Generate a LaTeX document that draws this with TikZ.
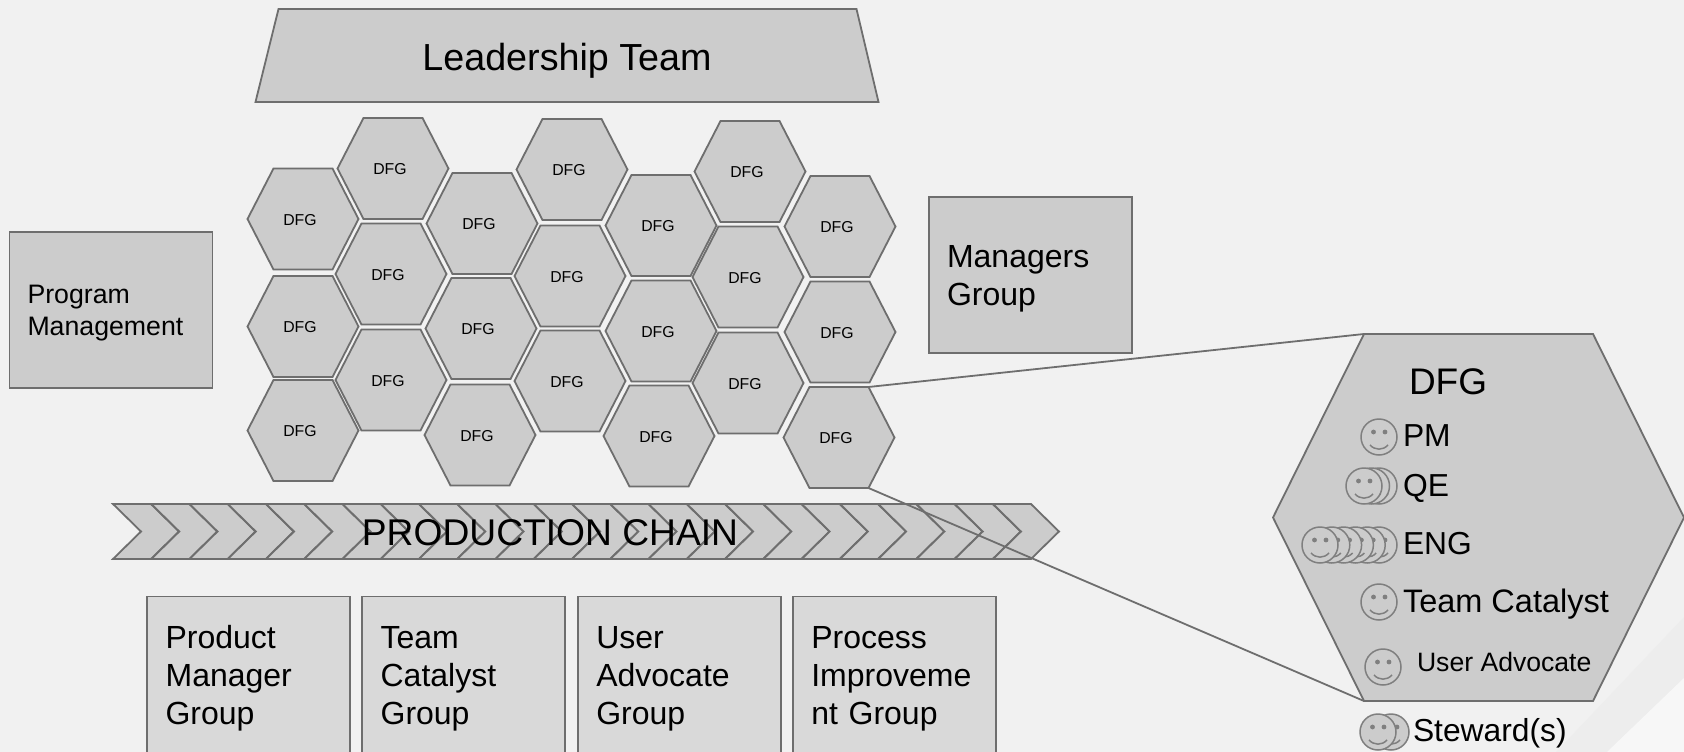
\documentclass[tikz,border=0pt]{standalone}
\usepackage{fontspec}
\setmainfont{Liberation Sans}
\usetikzlibrary{calc}
\definecolor{bgc}{HTML}{F1F1F1}
\definecolor{bandc}{HTML}{EDEDED}
\definecolor{lightc}{HTML}{F7F7F7}
\definecolor{fillc}{HTML}{CCCCCC}
\definecolor{fillb}{HTML}{D9D9D9}
\definecolor{linec}{HTML}{6E6E6E}
\definecolor{facec}{HTML}{7F7F7F}
\newcommand{\fs}[1]{\fontsize{#1}{#1}\selectfont}
\newcommand{\fsl}[2]{\fontsize{#1}{#2}\selectfont}
\tikzset{
  shapeline/.style={draw=linec,line width=1.8pt,fill=fillc,line join=miter},
  hexlabel/.style={inner sep=0pt,outer sep=0pt,font=\fs{15.8},text=black},
  boxa/.style={shapeline,rectangle,minimum width=203pt,inner sep=0pt,outer sep=0pt},
  boxb/.style={boxa,fill=fillb,minimum height=156pt},
  boxcopy/.style={inner sep=0pt,outer sep=0pt,align=left,text=black,text width=167pt},
  boxtxt/.style={anchor=base west,inner sep=0pt,outer sep=0pt,text=black},
  zoomline/.style={draw=linec,line width=1.8pt},
  smiley/.pic={
    \draw[draw=facec,line width=1.5pt,fill=fillc] (0,0) circle[radius=18];
    \fill[facec] (-5.5,-5) circle[radius=2.4] (6,-5) circle[radius=2.4];
    \draw[draw=facec,line width=1.5pt] (-9,8) .. controls (-4,13.5) and (4,13.5) .. (9,8);
  }
}
% name, cx, cy, half width, half height, corner inset
\newcommand{\hexpoly}[6]{%
  \coordinate (#1 ne) at (#2+#4-#6,#3-#5);
  \coordinate (#1 nw) at (#2-#4+#6,#3-#5);
  \coordinate (#1 se) at (#2+#4-#6,#3+#5);
  \coordinate (#1 sw) at (#2-#4+#6,#3+#5);
  \draw[shapeline] (#1 nw) -- (#1 ne) -- (#2+#4,#3) -- (#1 se) -- (#1 sw) -- (#2-#4,#3) -- cycle;
}
\newcommand{\hexcell}[3]{\hexpoly{#1}{#2}{#3}{55.5}{50.5}{26}\node[hexlabel] (#1) at (#2-3,#3+0.7) {DFG};}
\begin{document}
\begin{tikzpicture}[x=1pt,y=-1pt]
\useasboundingbox (0,0) rectangle (1684,752);
\fill[bgc] (0,0) rectangle (1684,752);
\fill[bandc] (1556,752) -- (1684,617) -- (1684,752) -- cycle;
\fill[lightc] (1607,752) -- (1684,678) -- (1684,752) -- cycle;
% trapezoid
\draw[shapeline] (278.5,9) -- (856.5,9) -- (878.5,102) -- (255.5,102) -- cycle;
\node[inner sep=0pt,font=\fs{37.7},text=black] (lead) at (567,60.5) {Leadership Team};
% side boxes
\node[boxa,minimum height=155.5pt] (prog) at (111,310) {};
\node[boxcopy,font=\fsl{26.7}{32}] (progt) at (111,313.5) {Program\\Management};
\node[boxa,minimum height=155.5pt] (mgr) at (1030.5,275) {};
\node[boxcopy,font=\fsl{32}{38}] (mgrt) at (1030.5,279) {Managers\\Group};
% hex grid
\hexcell{h11}{303}{219}
\hexcell{h12}{303}{326.5}
\hexcell{h13}{303}{430.5}
\hexcell{h21}{393}{168.5}
\hexcell{h22}{391}{274}
\hexcell{h23}{391}{380}
\hexcell{h31}{482}{223.5}
\hexcell{h32}{481}{328.5}
\hexcell{h33}{480}{435}
\hexcell{h41}{572}{169.5}
\hexcell{h42}{570}{276}
\hexcell{h43}{570}{381}
\hexcell{h51}{661}{225.5}
\hexcell{h52}{661}{331}
\hexcell{h53}{659}{436}
\hexcell{h61}{750}{171.5}
\hexcell{h62}{748}{277}
\hexcell{h63}{748}{383}
\hexcell{h71}{840}{226.5}
\hexcell{h72}{840}{332}
\hexcell{h73}{839}{437.5}
% chevrons
\foreach \i in {0,...,23}{
  \pgfmathsetmacro{\xo}{113+\i*38.26}
  \draw[shapeline] (\xo,504) -- (\xo+38,504) -- (\xo+66,531.5) -- (\xo+38,559) -- (\xo,559) -- (\xo+28,531.5) -- cycle;
}
\node[inner sep=0pt,font=\fs{37.2},text=black] (chain) at (550,532.5) {PRODUCTION CHAIN};
% bottom boxes
\foreach \n/\x/\t in {b1/248.8/{Product\\Manager\\Group},b2/463.8/{Team\\Catalyst\\Group},b3/679.5/{User\\Advocate\\Group},b4/894.5/{Process\\Improveme\\nt Group}}{
  \node[boxb] (\n) at (\x,674.5) {};
  \node[boxcopy,font=\fsl{32}{38}] (\n t) at (\x+0.3,678.5) {\t};
}
% big hexagon
\hexpoly{big}{1478.5}{517.5}{205.5}{183.5}{91}
\draw[zoomline] (h73 ne) -- (big nw);
\draw[zoomline] (h73 se) -- (big sw);
% faces
\pic at (1379,437) {smiley};
\foreach \x in {1379,1371.5,1364} {\pic at (\x,486) {smiley};}
\foreach \x in {1379,1367.2,1355.4,1343.6,1331.8,1320} {\pic at (\x,545) {smiley};}
\pic at (1379,602) {smiley};
\pic at (1383,667) {smiley};
\foreach \x in {1391,1378} {\pic at (\x,732) {smiley};}
% member labels
\node[boxtxt,font=\fs{37}] (t0) at (1409,394) {DFG};
\node[boxtxt,font=\fs{31.8}] (t1) at (1403,446) {PM};
\node[boxtxt,font=\fs{31.8}] (t2) at (1403,496) {QE};
\node[boxtxt,font=\fs{31.8}] (t3) at (1403,554) {ENG};
\node[boxtxt,font=\fs{32.5}] (t4) at (1403,612) {Team Catalyst};
\node[boxtxt,font=\fs{26.6}] (t5) at (1417,671) {User Advocate};
\node[boxtxt,font=\fs{31.8}] (t6) at (1413,741) {Steward(s)};
\end{tikzpicture}
\end{document}
